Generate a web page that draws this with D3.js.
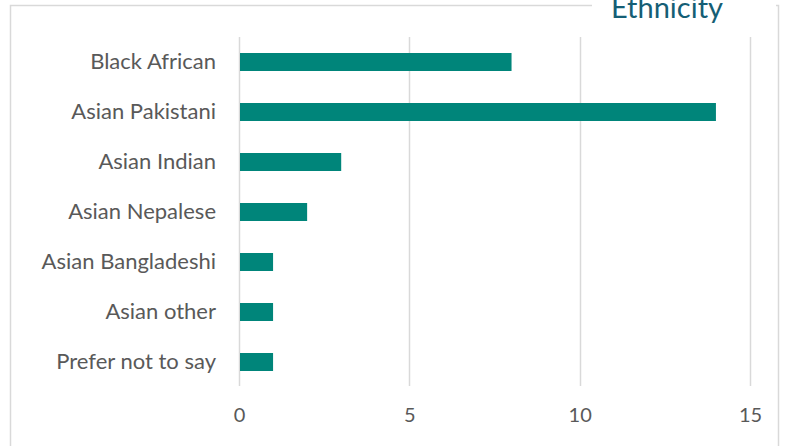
<!DOCTYPE html>
<html>
<head>
<meta charset="utf-8">
<script src="https://cdn.jsdelivr.net/npm/d3@7"></script>
<style>
  body { margin: 0; background: #fff; }
  svg { display: block; font-family: Lato, "Open Sans", sans-serif; }
</style>
</head>
<body>
<div class="chart"></div>
<script>
// chart data
var categories = ["Black African", "Asian Pakistani", "Asian Indian", "Asian Nepalese",
  "Asian Bangladeshi", "Asian other", "Prefer not to say"];
var counts = [8, 14, 3, 2, 1, 1, 1];
var xTicks = [0, 5, 10, 15];
var title = "Ethnicity";

var svgWidth = 787, svgHeight = 446;
var margin = { top: 37, left: 239, right: 37, bottom: 59 };
var width = svgWidth - margin.left - margin.right;
var height = svgHeight - margin.top - margin.bottom;

var svg = d3.select(".chart").append("svg")
  .attr("width", svgWidth)
  .attr("height", svgHeight);

// outer border of chart area
svg.append("rect")
  .attr("x", 10.5).attr("y", 5.5)
  .attr("width", 768).attr("height", 460)
  .attr("fill", "none")
  .attr("stroke", "#d9d9d9")
  .attr("stroke-width", 1.5);

// title sits over the border
svg.append("rect")
  .attr("x", 592).attr("y", 0)
  .attr("width", 184).attr("height", 30)
  .attr("fill", "#fff");
svg.append("text")
  .attr("x", 667).attr("y", 18)
  .attr("text-anchor", "middle")
  .attr("fill", "#155e75")
  .style("font-size", "29px")
  .text(title);

var chartGroup = svg.append("g")
  .attr("transform", `translate(${margin.left}, ${margin.top})`);

var x = d3.scaleLinear().domain([0, 15]).range([0, 511]);
var y = d3.scaleBand().domain(categories).range([0, 350]).paddingInner(0.64).paddingOuter(0.32);

// gridlines
chartGroup.selectAll(".grid")
  .data(xTicks)
  .enter()
  .append("line")
  .attr("x1", d => Math.round(x(d)) + 0.5)
  .attr("x2", d => Math.round(x(d)) + 0.5)
  .attr("y1", 0)
  .attr("y2", height - 1)
  .attr("stroke", "#d9d9d9")
  .attr("stroke-width", 1.5);

// bars
chartGroup.selectAll(".bar")
  .data(counts)
  .enter()
  .append("rect")
  .attr("x", x(0) + 1)
  .attr("y", (d, i) => y(categories[i]))
  .attr("width", d => x(d) - 1)
  .attr("height", y.bandwidth())
  .attr("fill", "#00857a");

// x axis tick labels
var xAxis = d3.axisBottom(x).tickValues(xTicks).tickSize(0).tickPadding(21);
var xg = chartGroup.append("g")
  .attr("transform", `translate(0, ${height})`)
  .call(xAxis);
xg.select(".domain").remove();
xg.selectAll("text")
  .attr("fill", "#595959")
  .style("font-size", "20px")
  .style("font-family", "Lato, sans-serif");

// category labels
var yAxis = d3.axisLeft(y).tickSize(0).tickPadding(23);
var yg = chartGroup.append("g").call(yAxis);
yg.select(".domain").remove();
yg.selectAll("text")
  .attr("fill", "#595959")
  .style("font-size", "22px")
  .style("font-family", "Lato, sans-serif");
</script>
</body>
</html>
